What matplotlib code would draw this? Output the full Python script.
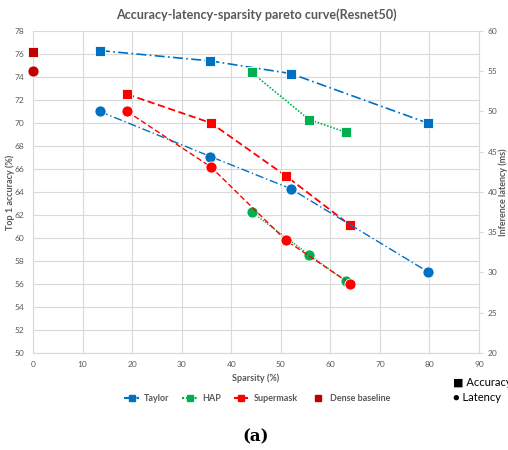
import matplotlib
matplotlib.use("Agg")
import matplotlib.pyplot as plt
from matplotlib.lines import Line2D

plt.rcParams['font.family'] = ['Lato', 'DejaVu Sans']

# Data
taylor_sp = [13.5, 35.8, 52.0, 79.6]
taylor_acc = [76.3, 75.4, 74.3, 70.0]
taylor_lat = [50.0, 44.4, 40.4, 30.1]

hap_sp = [44.1, 55.7, 63.1]
hap_acc = [74.4, 70.3, 69.2]
hap_lat = [37.5, 32.2, 28.9]

super_sp = [19.0, 35.9, 51.0, 64.0]
super_acc = [72.5, 70.0, 65.4, 61.1]
super_lat = [50.0, 43.1, 34.0, 28.6]

dense_sp = [0.0]
dense_acc = [76.2]
dense_lat = [55.0]

BLUE = "#0070C0"
GREEN = "#00B050"
RED = "#FF0000"
DRED = "#C00000"
GRAY = "#595959"
GRID = "#D9D9D9"

fig = plt.figure(figsize=(5.08, 4.5), dpi=100)
ax = fig.add_axes([0.065, 0.216, 0.878, 0.715])
ax2 = ax.twinx()

ms = 7.5
mew = 0.6
ax.plot(taylor_sp, taylor_acc, color=BLUE, ls=(0, (6, 2, 1, 2)), lw=1.2,
        marker="s", ms=ms, mec="white", mew=mew, zorder=3)
ax.plot(hap_sp, hap_acc, color=GREEN, ls=(0, (1, 1)), lw=1.2,
        marker="s", ms=ms, mec="white", mew=mew, zorder=3)
ax.plot(super_sp, super_acc, color=RED, ls=(0, (4, 2)), lw=1.3,
        marker="s", ms=ms, mec="white", mew=mew, zorder=3)
ax.plot(dense_sp, dense_acc, ls="none", color=DRED,
        marker="s", ms=ms, mec="white", mew=mew, zorder=3, clip_on=False)

ax2.plot(taylor_sp, taylor_lat, color=BLUE, ls=(0, (6, 2, 1, 2)), lw=1.0,
         marker="o", ms=ms + 0.5, mec="white", mew=mew, zorder=3)
ax2.plot(hap_sp, hap_lat, color=GREEN, ls=(0, (1, 1)), lw=1.0,
         marker="o", ms=ms + 0.5, mec="white", mew=mew, zorder=3)
ax2.plot(super_sp, super_lat, color=RED, ls=(0, (4, 2)), lw=1.0,
         marker="o", ms=ms + 0.5, mec="white", mew=mew, zorder=3)
ax2.plot(dense_sp, dense_lat, ls="none", color=DRED,
         marker="o", ms=ms + 0.5, mec="white", mew=mew, zorder=3, clip_on=False)

ax.set_xlim(0, 90)
ax.set_ylim(50, 78)
ax2.set_ylim(20, 60)
ax.set_xticks(range(0, 91, 10))
ax.set_yticks(range(50, 79, 2))
ax2.set_yticks(range(20, 61, 5))

ax.grid(True, color=GRID, lw=0.8)
ax.set_axisbelow(True)
for a in (ax, ax2):
    for s in a.spines.values():
        s.set_visible(False)
ax.spines["left"].set_visible(True)
ax.spines["left"].set_color(GRID)
ax.spines["bottom"].set_visible(True)
ax.spines["bottom"].set_color(GRID)
ax2.spines["right"].set_visible(True)
ax2.spines["right"].set_color(GRID)

ax.tick_params(axis="both", length=0, labelsize=6, labelcolor=GRAY, pad=6)
ax2.tick_params(axis="y", length=3, color=GRID, labelsize=6, labelcolor=GRAY, pad=3)

ax.set_xlabel("Sparsity (%)", fontsize=6.5, color=GRAY, fontweight="bold", labelpad=4)
ax.set_ylabel("Top 1 accuracy (%)", fontsize=6.5, color=GRAY, fontweight="bold")
ax2.set_ylabel("Inference latency (ms)", fontsize=6.5, color=GRAY, fontweight="bold")
ax.yaxis.set_label_coords(-0.052, 0.5)
ax2.yaxis.set_label_coords(1.054, 0.5)
ax2.yaxis.label.set_va("center")
ax.yaxis.label.set_va("center")

fig.text(0.505, 0.968, "Accuracy-latency-sparsity pareto curve(Resnet50)",
         ha="center", va="center", fontsize=9.1, color=GRAY, fontweight="bold")

handles = [
    Line2D([], [], color=BLUE, ls=(0, (4, 2)), marker="s", ms=4.5),
    Line2D([], [], color=GREEN, ls=(0, (1, 1)), marker="s", ms=4.5),
    Line2D([], [], color=RED, ls=(0, (3, 1.5)), marker="s", ms=4.5),
    Line2D([], [], color=DRED, ls="none", marker="s", ms=4.5),
]
leg = fig.legend(handles, ["Taylor", "HAP", "Supermask", "Dense baseline"],
                 loc="center", bbox_to_anchor=(0.507, 0.115), ncol=4, frameon=False,
                 fontsize=6.5, handlelength=1.6, handletextpad=0.6, columnspacing=1.4)
for t in leg.get_texts():
    t.set_color(GRAY)
    t.set_fontweight("bold")

fig.text(0.892, 0.150, "\u25A0 Accuracy", fontsize=8, color="black", va="center", ha="left",
         family=["Lato", "DejaVu Sans"])
fig.text(0.892, 0.117, "\u25CF Latency", fontsize=8, color="black", va="center", ha="left",
         family=["Lato", "DejaVu Sans"])

fig.text(0.503, 0.030, "(a)", ha="center", va="center", fontsize=12,
         fontweight="bold", family="DejaVu Serif")

fig.savefig("out.png", dpi=100)
